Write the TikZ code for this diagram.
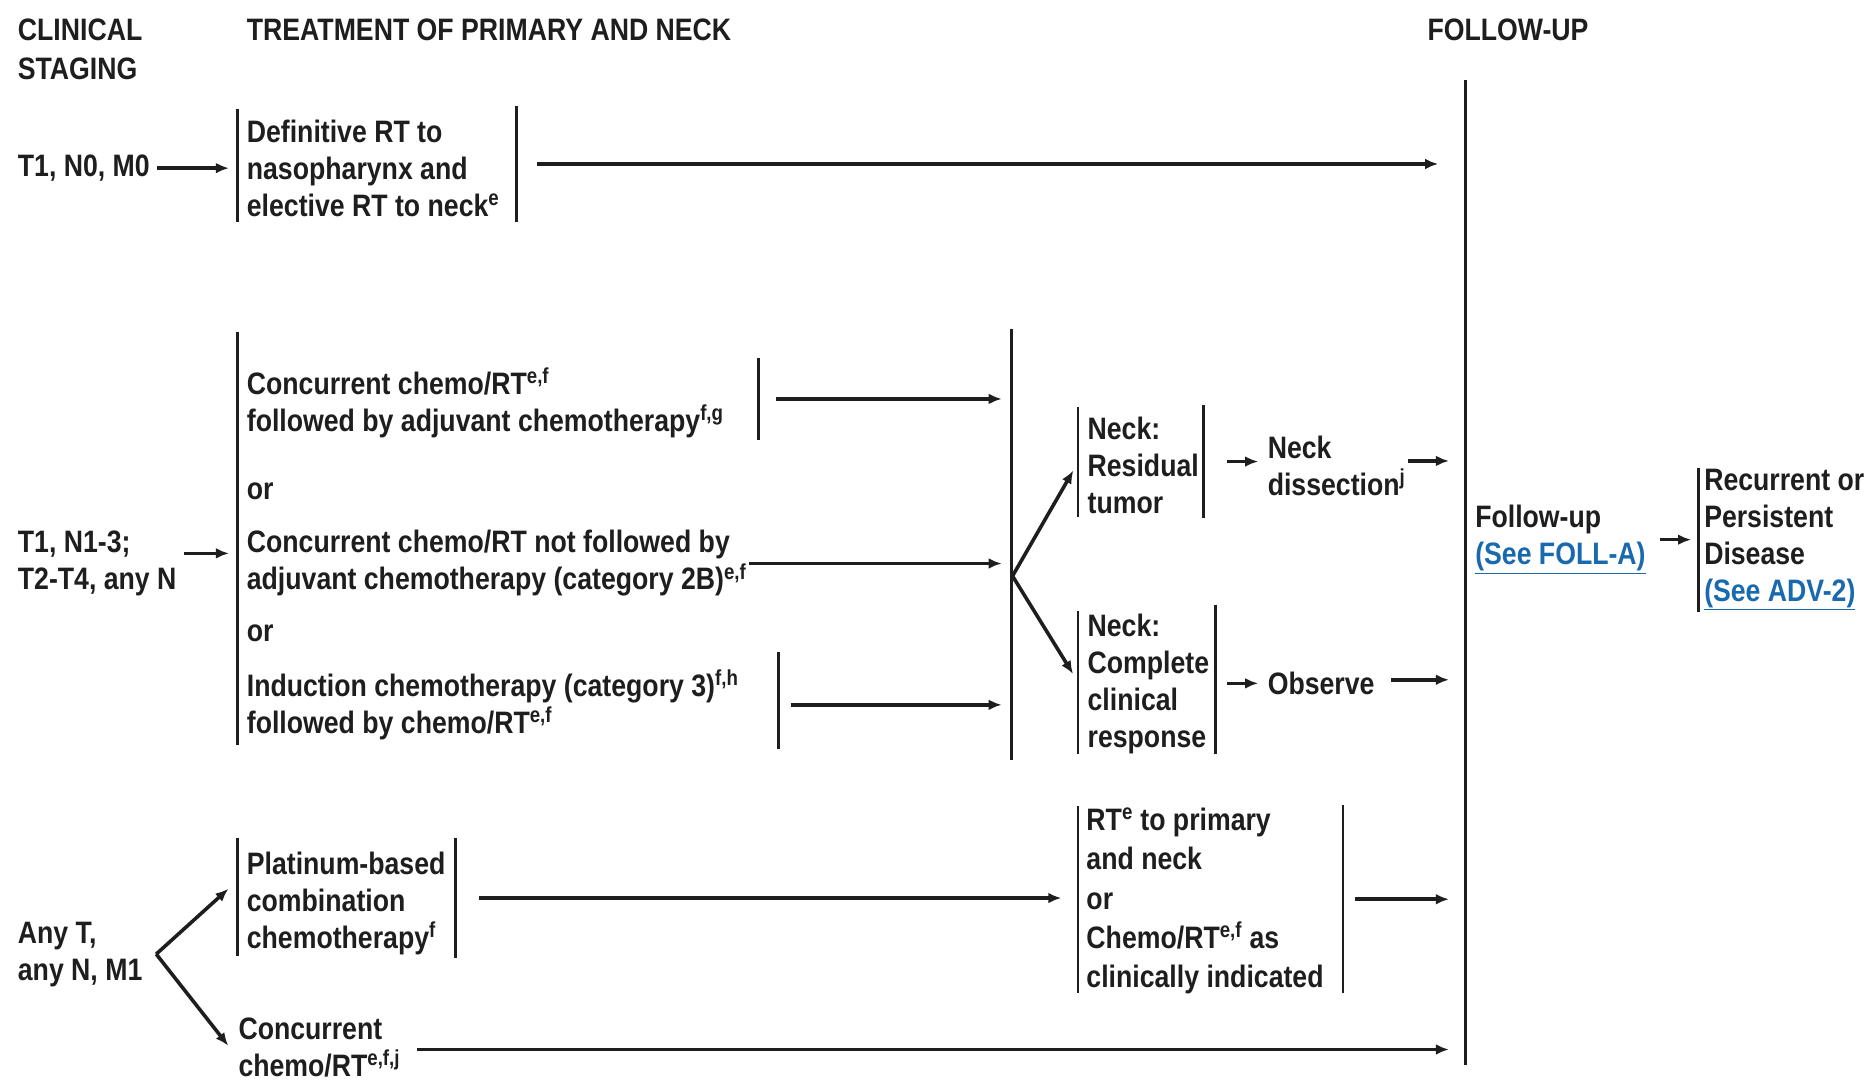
\documentclass[tikz,border=0pt]{standalone}
\usepackage{fontspec}
\setmainfont{Liberation Sans}[FakeStretch=0.86]
\usetikzlibrary{arrows.meta}
\definecolor{ink}{RGB}{30,30,30}
\definecolor{linkblue}{RGB}{25,105,175}
\newcommand{\sps}[1]{\textsuperscript{#1}}
\newcommand{\lnk}[1]{\textcolor{linkblue}{\underline{#1}}}
\begin{document}
\begin{tikzpicture}[x=1pt,y=-1pt,
 txt/.style={anchor=west, inner sep=0pt, outer sep=0pt, align=left, text=ink, font=\fontsize{26}{31}\selectfont\bfseries},
 vb/.style={inner sep=0pt, outer sep=0pt, minimum width=0pt, minimum height=#1},
 bar/.style={draw=ink, line width=2.2pt},
 arr/.style={draw=ink, line width=3pt, -{Latex[length=11pt,width=9pt]}},
]
\fill[white] (0,0) rectangle (1568,907);
\useasboundingbox (0,0) rectangle (1568,907);

% headers
\node[txt, font=\fontsize{26}{33}\selectfont\bfseries] (hcs) at (15,41.5) {CLINICAL\\STAGING};
\node[txt] (htr) at (207,25) {TREATMENT OF PRIMARY AND NECK};
\node[txt] (hfu) at (1197,25) {FOLLOW-UP};

% row 1
\node[txt] (s1) at (15,141) {T1, N0, M0};
\node[vb=95] (b1L) at (199,138.5) {};
\node[txt] (b1) at (207,141) {Definitive RT to\\nasopharynx and\\elective RT to neck\sps{e}};
\node[vb=97] (b1R) at (433,137.5) {};
\node[vb=826] (fu) at (1229,480) {};
\draw[arr, shorten <=6pt, shorten >=7pt] (s1.east) -- (s1.east -| b1L.west);
\draw[arr, shorten <=17pt, shorten >=23pt] (b1R.east) -- (b1R.east -| fu.west);

% row 2
\node[txt] (s2) at (15,472) {T1, N1-3;\\T2-T4, any N};
\node[vb=347] (r2L) at (199,451.5) {};
\node[txt] (r2a) at (207,338) {Concurrent chemo/RT\sps{e,f}\\followed by adjuvant chemotherapy\sps{f,g}};
\node[vb=69] (r2aR) at (636,334.5) {};
\node[txt] (or1) at (207,412) {or};
\node[txt] (r2b) at (207,472.5) {Concurrent chemo/RT not followed by\\adjuvant chemotherapy (category 2B)\sps{e,f}};
\node[txt] (or2) at (207,531) {or};
\node[txt] (r2c) at (207,591) {Induction chemotherapy (category 3)\sps{f,h}\\followed by chemo/RT\sps{e,f}};
\node[vb=81] (r2cR) at (653,587.5) {};
\node[vb=361] (big) at (848,456.5) {};
\coordinate (fk2) at (849,483);
\node[vb=92] (nrL) at (904,387.5) {};
\node[txt] (nr) at (912,390.5) {Neck:\\Residual\\tumor};
\node[vb=94] (nrR) at (1009,387) {};
\node[txt] (nd) at (1063,390.5) {Neck\\dissection\sps{j}};
\node[vb=120] (ccL) at (904,572) {};
\node[txt] (cc) at (912,573.5) {Neck:\\Complete\\clinical\\response};
\node[vb=125] (ccR) at (1019,569.5) {};
\node[txt] (ob) at (1063,573) {Observe};

\coordinate (s2o) at ([yshift=8pt]s2.east);
\draw[arr, shorten <=6pt, shorten >=7pt] (s2o) -- (s2o -| r2L.west);
\draw[arr, shorten <=15pt, shorten >=8pt] (r2aR.east) -- (r2aR.east -| big.west);
\draw[arr, shorten <=2pt, shorten >=8pt] (r2b.east) -- (r2b.east -| big.west);
\coordinate (r2co) at (r2c.east -| r2cR.east);
\draw[arr, shorten <=10pt, shorten >=8pt] (r2co) -- (r2co -| big.west);
\draw[arr, shorten >=8pt] (fk2) -- (nrL.west);
\draw[arr, shorten >=8pt] (fk2) -- (ccL.west);
\draw[arr, shorten <=20pt, shorten >=8pt] (nrR.east) -- (nrR.east -| nd.west);
\coordinate (ndo) at ([yshift=4pt]nd.east);
\draw[arr, shorten <=2pt, shorten >=14pt] (ndo) -- (ndo -| fu.west);
\coordinate (obi) at (ob.west -| ccR.east);
\draw[arr, shorten <=10pt, shorten >=8pt] (obi) -- (ob.west);
\coordinate (obo) at ([yshift=3pt]ob.east);
\draw[arr, shorten <=14pt, shorten >=14pt] (obo) -- (obo -| fu.west);

% follow-up side
\node[txt] (fut) at (1237,452.5) {Follow-up\\\lnk{(See FOLL-A)}};
\node[vb=121] (rcL) at (1424,452.5) {};
\node[txt] (rc) at (1429,452.5) {Recurrent or\\Persistent\\Disease\\\lnk{(See ADV-2)}};
\draw[arr, shorten <=12pt, shorten >=6pt] (fut.east) -- (fut.east -| rcL.west);

% row 3
\node[txt] (s3) at (15,800) {Any T,\\any N, M1};
\coordinate (fk3) at (131,800);
\node[vb=99] (plL) at (199,752.5) {};
\node[txt] (pl) at (207,757.5) {Platinum-based\\combination\\chemotherapy\sps{f}};
\node[vb=100] (plR) at (382,753) {};
\node[vb=157] (rtL) at (904,754.5) {};
\node[txt, font=\fontsize{26}{33}\selectfont\bfseries] (rt) at (911,755.5) {RT\sps{e} to primary\\and neck\\or\\Chemo/RT\sps{e,f} as\\clinically indicated};
\node[vb=158] (rtR) at (1126,754) {};
\node[txt] (r3b) at (200,878) {Concurrent\\chemo/RT\sps{e,f,j}};

\coordinate (plin) at ([yshift=14pt]plL.west);
\draw[arr, shorten >=10pt] (fk3) -- (plin);
\coordinate (r3in) at ([xshift=-3pt,yshift=-6pt]r3b.west);
\draw[arr, shorten >=9pt] (fk3) -- (r3in);
\draw[arr, shorten <=20pt, shorten >=14pt] (plR.east) -- (plR.east -| rtL.west);
\draw[arr, shorten <=10pt, shorten >=14pt] (rtR.east) -- (rtR.east -| fu.west);
\coordinate (r3o) at ([yshift=-2pt]r3b.east);
\draw[arr, shorten <=14pt, shorten >=14pt] (r3o) -- (r3o -| fu.west);

% bars
\foreach \b in {b1L,b1R,fu,r2L,r2aR,r2cR,big,nrL,nrR,ccL,ccR,rcL,plL,plR,rtL,rtR}
  \draw[bar] (\b.north) -- (\b.south);
\end{tikzpicture}
\end{document}
